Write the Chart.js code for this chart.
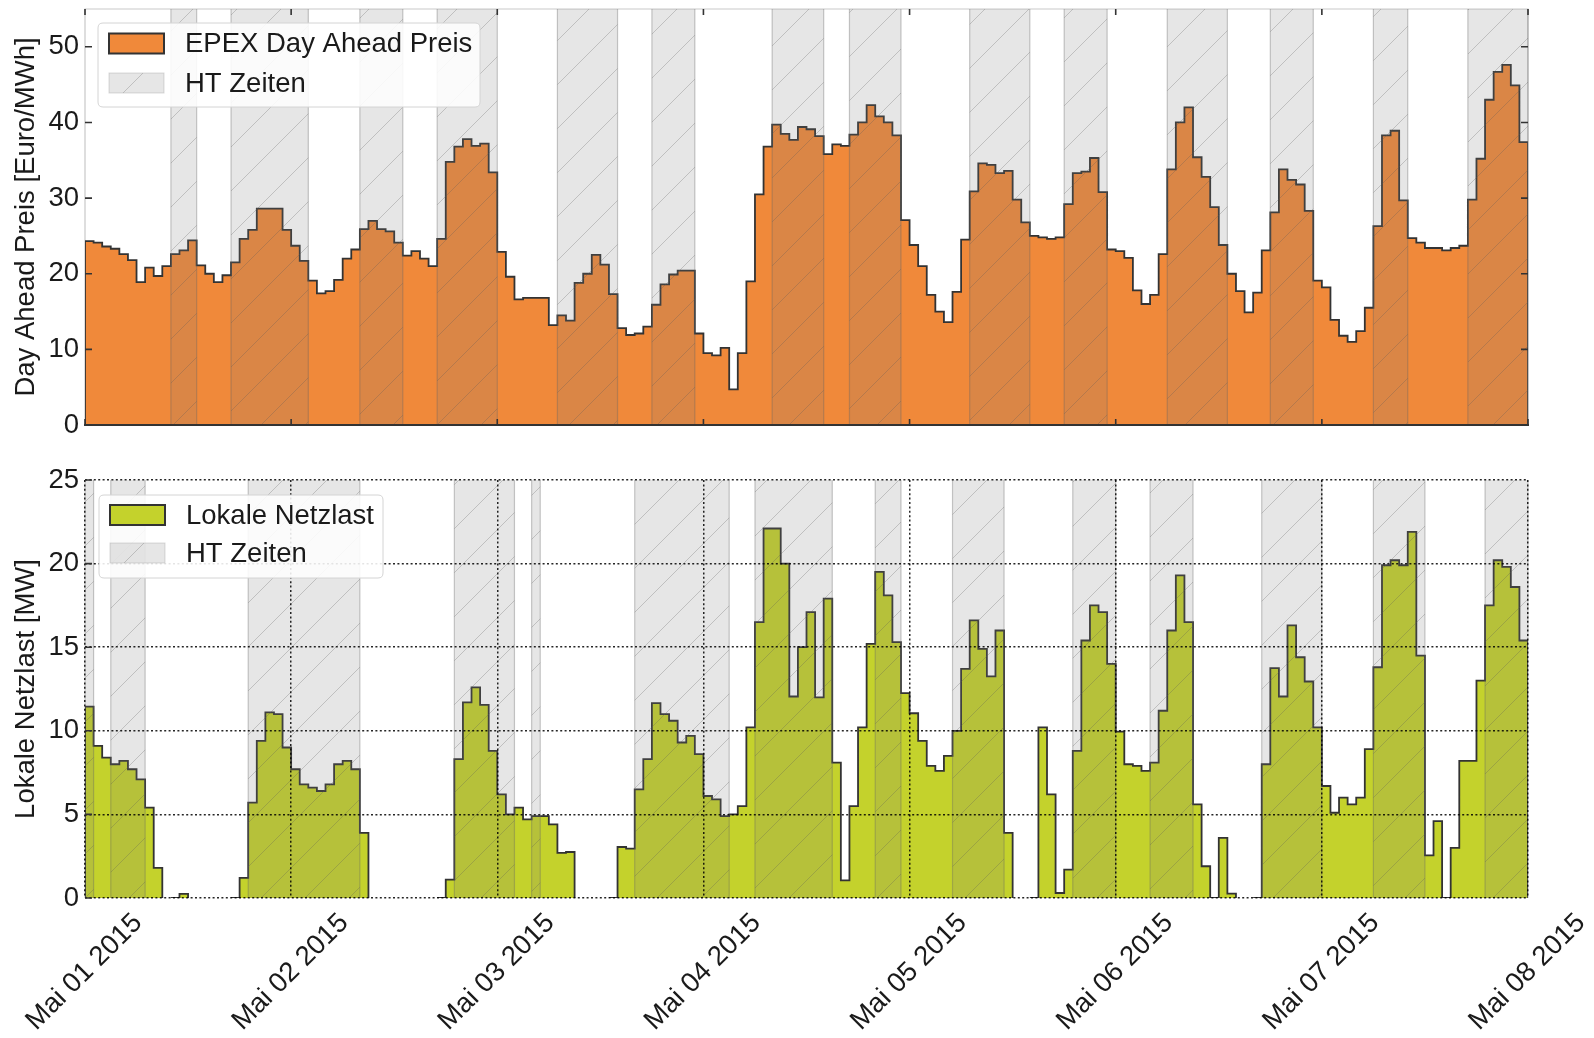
<!DOCTYPE html>
<html>
<head>
<meta charset="utf-8">
<script src="https://cdn.jsdelivr.net/npm/chart.js@4.4.1/dist/chart.umd.min.js"></script>
<style>
  html, body { margin: 0; padding: 0; background: #ffffff; }
  #wrap { position: relative; width: 1594px; height: 1038px; overflow: hidden; }
  canvas { position: absolute; left: 0; }
  #priceCanvas { top: 0; }
  #loadCanvas { top: 440px; }
</style>
</head>
<body>
<div id="wrap">
  <canvas id="priceCanvas" width="1594" height="440"></canvas>
  <canvas id="loadCanvas" width="1594" height="598"></canvas>
</div>
<script>
// ---- data: hourly values, 1 May 2015 00:00 to 8 May 2015 00:00 ----
const dayLabels = ['Mai 01 2015', 'Mai 02 2015', 'Mai 03 2015', 'Mai 04 2015',
                   'Mai 05 2015', 'Mai 06 2015', 'Mai 07 2015', 'Mai 08 2015'];

// EPEX day-ahead price, Euro/MWh (one value per hour)
const priceEuroMWh = [
  24.3, 24.1, 23.6, 23.3, 22.6, 21.8, 18.9, 20.8, 19.7, 21.0, 22.6, 23.1,
  24.4, 21.1, 20.0, 18.9, 19.8, 21.5, 24.6, 25.8, 28.6, 28.6, 28.6, 25.8,
  23.7, 21.7, 19.1, 17.4, 17.7, 19.2, 22.0, 23.2, 25.9, 27.0, 25.9, 25.6,
  24.1, 22.4, 23.0, 22.0, 21.0, 24.6, 34.8, 36.8, 37.8, 36.9, 37.2, 33.4,
  22.9, 19.6, 16.6, 16.8, 16.8, 16.8, 13.2, 14.5, 13.8, 18.8, 20.0, 22.5,
  21.2, 17.3, 12.8, 11.9, 12.1, 13.0, 15.9, 18.6, 19.9, 20.4, 20.4, 12.1,
   9.5,  9.2, 10.2,  4.7,  9.5, 19.0, 30.5, 36.8, 39.7, 38.5, 37.7, 39.4,
  39.1, 38.2, 35.8, 37.1, 36.9, 38.4, 40.0, 42.3, 40.8, 40.0, 38.3, 27.1,
  23.8, 21.0, 17.2, 15.0, 13.6, 17.6, 24.5, 30.9, 34.6, 34.4, 33.3, 33.6,
  29.8, 26.8, 25.0, 24.8, 24.6, 24.8, 29.2, 33.3, 33.5, 35.3, 30.8, 23.2,
  23.0, 22.1, 17.8, 16.0, 17.2, 22.6, 33.8, 40.0, 42.0, 35.4, 32.8, 28.8,
  23.8, 20.0, 17.7, 14.9, 17.5, 23.1, 28.1, 33.8, 32.4, 31.8, 28.3, 19.1,
  18.2, 13.9, 11.8, 11.0, 12.4, 15.5, 26.3, 38.3, 38.9, 29.7, 24.7, 24.1,
  23.4, 23.4, 23.1, 23.4, 23.7, 29.8, 35.2, 43.0, 46.7, 47.6, 44.9, 37.4
];

// local grid load, MW (one value per hour)
const loadMW = [
  11.45, 9.1, 8.4, 8.0, 8.2, 7.7, 7.1, 5.4, 1.8, 0, 0, 0.25,
  0, 0, 0, 0, 0, 0, 1.2, 5.7, 9.4, 11.1, 11.0, 9.0,
  7.7, 6.8, 6.6, 6.4, 6.8, 8.0, 8.2, 7.7, 3.9, 0, 0, 0,
  0, 0, 0, 0, 0, 0, 1.1, 8.3, 11.7, 12.6, 11.55, 8.8,
  6.2, 5.0, 5.4, 4.7, 4.9, 4.9, 4.4, 2.7, 2.75, 0, 0, 0,
  0, 0, 3.05, 2.95, 6.5, 8.3, 11.65, 11.0, 10.6, 9.3, 9.7, 8.6,
  6.1, 5.9, 4.9, 5.0, 5.5, 10.2, 16.5, 22.1, 22.1, 20.0, 12.05, 15.0,
  17.1, 12.0, 17.9, 8.1, 1.06, 5.5, 10.2, 15.2, 19.5, 18.1, 15.3, 12.25,
  11.05, 9.4, 7.9, 7.6, 8.5, 10.0, 13.7, 16.6, 14.9, 13.25, 16.0, 3.9,
  0, 0, 0, 10.2, 6.2, 0.3, 1.7, 8.8, 15.4, 17.5, 17.1, 14.0,
  9.95, 8.0, 7.9, 7.6, 8.1, 11.2, 16.0, 19.3, 16.5, 5.6, 1.9, 0,
  3.6, 0.26, 0, 0, 0, 8.0, 13.75, 12.05, 16.3, 14.4, 12.95, 10.2,
  6.7, 5.1, 6.0, 5.6, 6.0, 8.9, 13.8, 19.9, 20.2, 19.9, 21.9, 14.5,
  2.55, 4.6, 0, 3.0, 8.2, 8.2, 13.0, 17.5, 20.2, 19.8, 18.6, 15.4
];

// HT (high tariff) windows, [start hour, end hour]
const htPriceWindows = [[10, 13], [17, 26], [32, 37], [41, 48], [55, 62], [66, 71], [80, 86],
                        [89, 95], [103, 110], [114, 119], [126, 133], [138, 143], [150, 154], [161, 168]];
const htLoadWindows = [[0, 1], [3, 7], [19, 32], [43, 50], [52, 53], [64, 75], [78, 87],
                       [92, 95], [101, 107], [115, 120], [124, 129], [137, 144], [150, 156], [163, 168]];

const priceTicks = [0, 10, 20, 30, 40, 50];
const loadTicks = [0, 5, 10, 15, 20, 25];
const hoursPerDay = 24;

// ---- styling ----
const FONT = "'Liberation Sans', Arial, Helvetica, sans-serif";
const FS = 27.5;
const TEXT = '#1a1a1a';
const EDGE = '#333333';
const BAND_FILL = 'rgba(120,120,120,0.19)';
const BAND_HATCH = 'rgba(90,90,90,0.28)';
const BAND_EDGE = 'rgba(100,100,100,0.35)';
const HATCH_STEP = 44;

// step outline closed down to the baseline at both ends
function stepSeries(values) {
  const pts = [{ x: 0, y: 0 }];
  values.forEach((v, i) => pts.push({ x: i, y: v }));
  pts.push({ x: values.length, y: values[values.length - 1] });
  pts.push({ x: values.length, y: 0 });
  return pts;
}

function hatchRect(ctx, x0, y0, x1, y1, anchorX, spacing) {
  ctx.save();
  ctx.beginPath();
  ctx.rect(x0, y0, x1 - x0, y1 - y0);
  ctx.clip();
  const h = y1 - y0;
  let xs = anchorX + Math.floor((x0 - h - anchorX) / spacing) * spacing;
  ctx.beginPath();
  for (; xs < x1; xs += spacing) {
    ctx.moveTo(xs, y1);
    ctx.lineTo(xs + h, y0);
  }
  ctx.strokeStyle = BAND_HATCH;
  ctx.lineWidth = 1;
  ctx.stroke();
  ctx.restore();
}

// shaded + hatched HT windows, laid over the filled area
const htBandPlugin = {
  id: 'htBands',
  afterDatasetsDraw(chart, args, opts) {
    const { ctx, chartArea, scales } = chart;
    const x = scales.x;
    ctx.save();
    for (const [a, b] of opts.windows) {
      const x0 = x.getPixelForValue(a);
      const x1 = x.getPixelForValue(b);
      ctx.fillStyle = BAND_FILL;
      ctx.fillRect(x0, chartArea.top, x1 - x0, chartArea.bottom - chartArea.top);
      hatchRect(ctx, x0, chartArea.top, x1, chartArea.bottom, chartArea.left, HATCH_STEP);
      ctx.strokeStyle = BAND_EDGE;
      ctx.lineWidth = 1.2;
      ctx.beginPath();
      ctx.moveTo(x0, chartArea.top); ctx.lineTo(x0, chartArea.bottom);
      ctx.moveTo(x1, chartArea.top); ctx.lineTo(x1, chartArea.bottom);
      ctx.stroke();
    }
    ctx.restore();
  }
};

// light frame and inward tick marks
const axisMarksPlugin = {
  id: 'axisMarks',
  beforeDatasetsDraw(chart, args, opts) {
    if (!opts.frame) return;
    const { ctx, chartArea: c } = chart;
    ctx.save();
    ctx.strokeStyle = '#c9c9c9';
    ctx.lineWidth = 1.2;
    ctx.beginPath();
    ctx.moveTo(c.left, c.bottom); ctx.lineTo(c.left, c.top);
    ctx.lineTo(c.right, c.top); ctx.lineTo(c.right, c.bottom);
    ctx.stroke();
    ctx.restore();
  },
  afterDraw(chart, args, opts) {
    const { ctx, chartArea: c, scales } = chart;
    ctx.save();
    ctx.strokeStyle = EDGE;
    ctx.lineWidth = 1.6;
    ctx.beginPath();
    for (const v of opts.yTicks) {
      const y = scales.y.getPixelForValue(v);
      ctx.moveTo(c.left, y); ctx.lineTo(c.left + 7, y);
      if (opts.rightTicks) { ctx.moveTo(c.right, y); ctx.lineTo(c.right - 7, y); }
    }
    if (opts.xTicks) {
      dayLabels.forEach((_, i) => {
        const x = scales.x.getPixelForValue(i * hoursPerDay);
        ctx.moveTo(x, c.bottom); ctx.lineTo(x, c.bottom - 6);
        ctx.moveTo(x, c.top); ctx.lineTo(x, c.top + 6);
      });
    }
    ctx.stroke();
    ctx.restore();
  }
};

function roundRectPath(ctx, x, y, w, h, r) {
  ctx.beginPath();
  ctx.moveTo(x + r, y);
  ctx.lineTo(x + w - r, y); ctx.quadraticCurveTo(x + w, y, x + w, y + r);
  ctx.lineTo(x + w, y + h - r); ctx.quadraticCurveTo(x + w, y + h, x + w - r, y + h);
  ctx.lineTo(x + r, y + h); ctx.quadraticCurveTo(x, y + h, x, y + h - r);
  ctx.lineTo(x, y + r); ctx.quadraticCurveTo(x, y, x + r, y);
  ctx.closePath();
}

// legend box inside the plot area
const boxLegendPlugin = {
  id: 'boxLegend',
  afterDraw(chart, args, o) {
    const ctx = chart.ctx;
    const ds = chart.data.datasets[0];
    ctx.save();
    roundRectPath(ctx, o.x, o.y, o.w, o.h, 5);
    ctx.fillStyle = 'rgba(255,255,255,0.88)';
    ctx.fill();
    ctx.strokeStyle = '#d4d4d4';
    ctx.lineWidth = 1;
    ctx.stroke();

    const sx = o.x + 11, sw = 55, sh = 20;
    // series swatch
    let cy = o.rows[0];
    ctx.fillStyle = ds.backgroundColor;
    ctx.fillRect(sx, cy - sh / 2, sw, sh);
    ctx.strokeStyle = EDGE;
    ctx.lineWidth = 2;
    ctx.strokeRect(sx, cy - sh / 2, sw, sh);
    // HT swatch
    cy = o.rows[1];
    ctx.fillStyle = BAND_FILL;
    ctx.fillRect(sx, cy - sh / 2, sw, sh);
    hatchRect(ctx, sx, cy - sh / 2, sx + sw, cy + sh / 2, sx + 14, HATCH_STEP);
    ctx.strokeStyle = 'rgba(150,150,150,0.35)';
    ctx.lineWidth = 1;
    ctx.strokeRect(sx, cy - sh / 2, sw, sh);

    ctx.fillStyle = TEXT;
    ctx.font = FS + 'px ' + FONT;
    ctx.textBaseline = 'middle';
    ctx.textAlign = 'left';
    ctx.fillText(ds.label, o.x + 87, o.rows[0] + 1);
    ctx.fillText('HT Zeiten', o.x + 87, o.rows[1] + 1);
    ctx.restore();
  }
};

Chart.defaults.font.family = FONT;
Chart.defaults.color = TEXT;

function dayTicks(scale) {
  scale.ticks = dayLabels.map((_, i) => ({ value: i * hoursPerDay }));
}

const GRID_DASH = [2, 2.4];
const GRID_COLOR = 'rgba(0,0,0,0.85)';

// ---- upper panel: day-ahead price ----
new Chart(document.getElementById('priceCanvas'), {
  type: 'line',
  data: {
    datasets: [{
      label: 'EPEX Day Ahead Preis',
      data: stepSeries(priceEuroMWh),
      stepped: true,
      fill: 'origin',
      backgroundColor: 'rgb(240,137,58)',
      borderColor: EDGE,
      borderWidth: 1.8,
      pointRadius: 0,
      tension: 0
    }]
  },
  options: {
    responsive: false,
    animation: false,
    devicePixelRatio: 1,
    layout: { padding: { left: 0, top: 9, right: 66, bottom: 15 } },
    plugins: {
      legend: { display: false },
      tooltip: { enabled: false },
      htBands: { windows: htPriceWindows },
      axisMarks: { frame: true, yTicks: priceTicks, rightTicks: true, xTicks: true },
      boxLegend: { x: 98, y: 23, w: 382, h: 84, rows: [43.5, 83] }
    },
    scales: {
      x: {
        type: 'linear', min: 0, max: 168,
        afterBuildTicks: dayTicks,
        afterFit: s => { s.height = 0; s.paddingLeft = 0; s.paddingRight = 0; },
        ticks: { display: false },
        grid: { display: false, drawTicks: false },
        border: { display: true, color: EDGE, width: 2, z: 1 }
      },
      y: {
        type: 'linear', min: 0, max: 55,
        afterBuildTicks: s => { s.ticks = priceTicks.map(v => ({ value: v })); },
        afterFit: s => { s.width = 85; s.paddingTop = 0; s.paddingBottom = 0; },
        ticks: { padding: 6, color: TEXT, font: { size: FS } },
        grid: { display: false, drawTicks: false },
        border: { display: false },
        title: {
          display: true, text: 'Day Ahead Preis [Euro/MWh]', color: TEXT,
          font: { size: FS }, padding: { top: 10, bottom: 0 }
        }
      }
    }
  },
  plugins: [htBandPlugin, axisMarksPlugin, boxLegendPlugin]
});

// ---- lower panel: local grid load ----
new Chart(document.getElementById('loadCanvas'), {
  type: 'line',
  data: {
    datasets: [{
      label: 'Lokale Netzlast',
      data: stepSeries(loadMW),
      stepped: true,
      fill: 'origin',
      backgroundColor: 'rgb(196,210,44)',
      borderColor: EDGE,
      borderWidth: 1.8,
      pointRadius: 0,
      tension: 0,
      segment: {
        borderColor: c => (c.p0.parsed.y === 0 && c.p1.parsed.y === 0) ? 'rgba(0,0,0,0)' : undefined
      }
    }]
  },
  options: {
    responsive: false,
    animation: false,
    devicePixelRatio: 1,
    layout: { padding: { left: 0, top: 40, right: 66, bottom: 0 } },
    plugins: {
      legend: { display: false },
      tooltip: { enabled: false },
      htBands: { windows: htLoadWindows },
      axisMarks: { frame: false, yTicks: loadTicks, rightTicks: false, xTicks: false },
      boxLegend: { x: 99, y: 55, w: 284, h: 83, rows: [75, 113] }
    },
    scales: {
      x: {
        type: 'linear', min: 0, max: 168,
        afterBuildTicks: dayTicks,
        afterFit: s => { s.height = 140; s.paddingLeft = 0; s.paddingRight = 0; },
        ticks: {
          autoSkip: false, minRotation: 45, maxRotation: 45,
          labelOffset: 53, padding: 9, color: TEXT, font: { size: FS },
          callback: v => dayLabels[Math.round(v / hoursPerDay)]
        },
        grid: { display: true, drawTicks: false, color: GRID_COLOR, lineWidth: 1.5, z: 1 },
        border: { display: false, dash: GRID_DASH }
      },
      y: {
        type: 'linear', min: 0, max: 25,
        afterBuildTicks: s => { s.ticks = loadTicks.map(v => ({ value: v })); },
        afterFit: s => { s.width = 85; s.paddingTop = 0; s.paddingBottom = 0; },
        ticks: { padding: 6, color: TEXT, font: { size: FS } },
        grid: { display: true, drawTicks: false, color: GRID_COLOR, lineWidth: 1.5, z: 1 },
        border: { display: false, dash: GRID_DASH },
        title: {
          display: true, text: 'Lokale Netzlast [MW]', color: TEXT,
          font: { size: FS }, padding: { top: 10, bottom: 0 }
        }
      }
    }
  },
  plugins: [htBandPlugin, axisMarksPlugin, boxLegendPlugin]
});
</script>
</body>
</html>
